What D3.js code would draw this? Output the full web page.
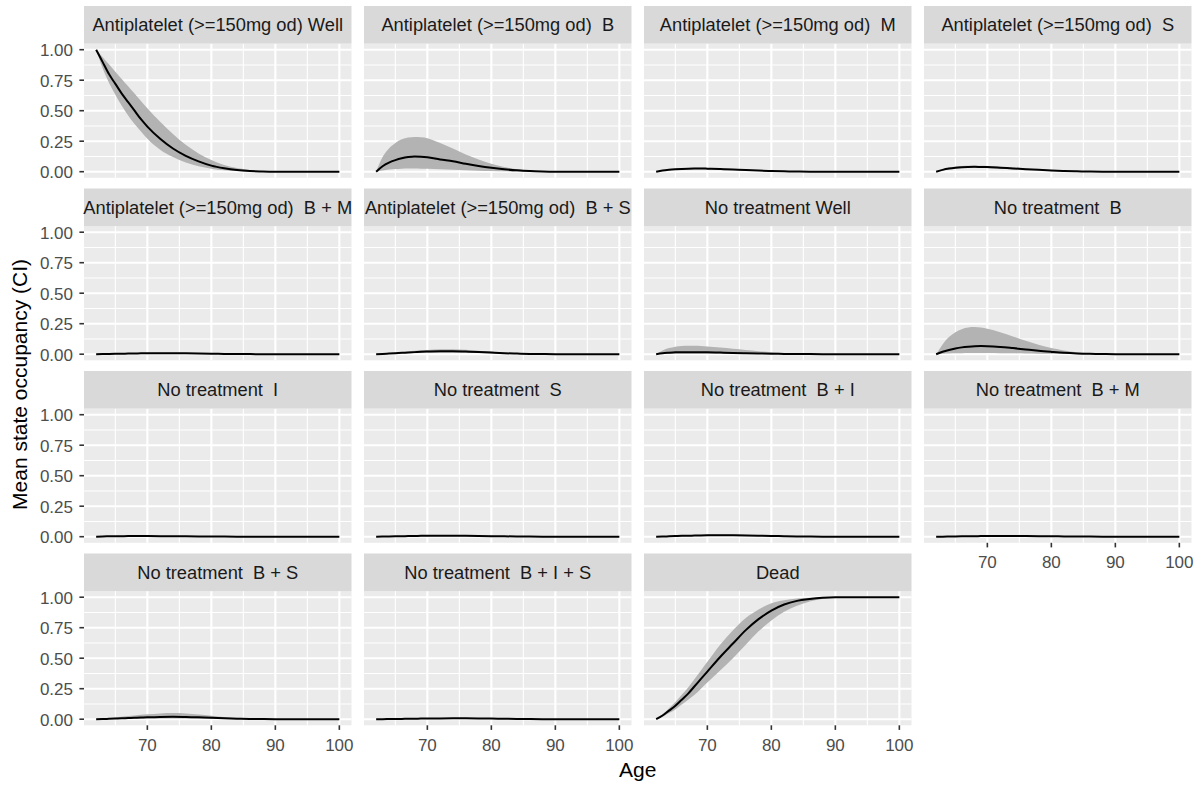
<!DOCTYPE html>
<html>
<head>
<meta charset="utf-8">
<script src="https://cdn.jsdelivr.net/npm/d3@7"></script>
<style>
  html, body { margin: 0; padding: 0; background: #fff; }
  svg { display: block; }
  text { font-family: "Liberation Sans", Arial, sans-serif; white-space: pre; }
</style>
</head>
<body>
<svg id="chart" width="1203" height="785"></svg>
<script>
// ---------------- data ----------------
const panelNames = [
  "Antiplatelet (>=150mg od) Well",
  "Antiplatelet (>=150mg od)  B",
  "Antiplatelet (>=150mg od)  M",
  "Antiplatelet (>=150mg od)  S",
  "Antiplatelet (>=150mg od)  B + M",
  "Antiplatelet (>=150mg od)  B + S",
  "No treatment Well",
  "No treatment  B",
  "No treatment  I",
  "No treatment  S",
  "No treatment  B + I",
  "No treatment  B + M",
  "No treatment  B + S",
  "No treatment  B + I + S",
  "Dead"
];

const ages = [62, 63, 64, 65, 66, 67, 68, 69, 70, 72, 74, 76, 78, 80, 82, 84, 86, 88, 90, 95, 100];

const xTicks = [70, 80, 90, 100];
const xMinor = [65, 75, 85, 95];
const yTicks = [0, 0.25, 0.5, 0.75, 1];
const yTickLabels = ["0.00", "0.25", "0.50", "0.75", "1.00"];
const yMinor = [0.125, 0.375, 0.625, 0.875];

const meanOccupancy = [
  [1, 0.90, 0.80, 0.72, 0.64, 0.57, 0.50, 0.43, 0.37, 0.27, 0.19, 0.13, 0.085, 0.05, 0.028, 0.013, 0.005, 0.002, 0.0005, 0, 0],
  [0, 0.045, 0.075, 0.095, 0.11, 0.12, 0.125, 0.123, 0.118, 0.10, 0.085, 0.065, 0.047, 0.032, 0.02, 0.011, 0.005, 0.002, 0.0005, 0, 0],
  [0, 0.01, 0.016, 0.02, 0.023, 0.025, 0.026, 0.026, 0.025, 0.022, 0.018, 0.013, 0.009, 0.006, 0.003, 0.0015, 0.0006, 0.0002, 0, 0, 0],
  [0, 0.015, 0.026, 0.033, 0.037, 0.039, 0.04, 0.039, 0.038, 0.033, 0.027, 0.021, 0.015, 0.01, 0.006, 0.003, 0.0015, 0.0005, 0.0002, 0, 0],
  [0, 0.001, 0.002, 0.003, 0.004, 0.005, 0.006, 0.007, 0.0075, 0.008, 0.0078, 0.007, 0.0055, 0.004, 0.0025, 0.0014, 0.0007, 0.0003, 0.0001, 0, 0],
  [0, 0.002, 0.005, 0.008, 0.011, 0.014, 0.017, 0.02, 0.022, 0.025, 0.025, 0.022, 0.018, 0.013, 0.008, 0.005, 0.0025, 0.001, 0.0005, 0, 0],
  [0, 0.008, 0.012, 0.015, 0.016, 0.017, 0.017, 0.016, 0.015, 0.013, 0.01, 0.008, 0.006, 0.004, 0.0025, 0.0015, 0.0008, 0.0004, 0.0002, 0, 0],
  [0, 0.02, 0.035, 0.047, 0.056, 0.062, 0.066, 0.067, 0.066, 0.06, 0.05, 0.039, 0.028, 0.019, 0.011, 0.006, 0.003, 0.001, 0.0003, 0, 0],
  [0, 0.002, 0.003, 0.004, 0.0045, 0.005, 0.005, 0.005, 0.0048, 0.0043, 0.0037, 0.003, 0.0023, 0.0016, 0.001, 0.0006, 0.0003, 0.0001, 0, 0, 0],
  [0, 0.001, 0.002, 0.003, 0.004, 0.005, 0.006, 0.0068, 0.0074, 0.008, 0.008, 0.0073, 0.006, 0.0046, 0.0032, 0.002, 0.0011, 0.0005, 0.0002, 0, 0],
  [0, 0.001, 0.003, 0.005, 0.007, 0.008, 0.0095, 0.0105, 0.0113, 0.012, 0.0118, 0.0105, 0.0085, 0.0063, 0.0042, 0.0025, 0.0013, 0.0006, 0.0002, 0, 0],
  [0, 0.0005, 0.0012, 0.002, 0.0028, 0.0035, 0.0042, 0.0048, 0.0053, 0.006, 0.006, 0.0055, 0.0045, 0.0034, 0.0023, 0.0014, 0.0007, 0.0003, 0.0001, 0, 0],
  [0, 0.001, 0.003, 0.005, 0.007, 0.0095, 0.012, 0.014, 0.016, 0.019, 0.02, 0.018, 0.015, 0.011, 0.007, 0.0042, 0.0022, 0.001, 0.0004, 0, 0],
  [0, 0.0003, 0.001, 0.0018, 0.0026, 0.0034, 0.0042, 0.005, 0.0056, 0.0065, 0.007, 0.0068, 0.006, 0.0048, 0.0034, 0.0022, 0.0012, 0.0006, 0.0002, 0, 0],
  [0, 0.03, 0.07, 0.11, 0.16, 0.21, 0.27, 0.33, 0.39, 0.51, 0.62, 0.73, 0.82, 0.89, 0.94, 0.97, 0.985, 0.995, 0.999, 1, 1]
];

const lowerCI = [
  [1, 0.85, 0.73, 0.63, 0.54, 0.46, 0.39, 0.33, 0.27, 0.18, 0.12, 0.075, 0.045, 0.025, 0.012, 0.005, 0.002, 0.0005, 0, 0, 0],
  [0, 0.01, 0.018, 0.022, 0.025, 0.026, 0.026, 0.025, 0.024, 0.02, 0.016, 0.012, 0.008, 0.005, 0.003, 0.0015, 0.0006, 0.0002, 0, 0, 0],
  [0, 0.007, 0.012, 0.015, 0.017, 0.019, 0.02, 0.02, 0.019, 0.017, 0.014, 0.01, 0.007, 0.0045, 0.0022, 0.001, 0.0004, 0.0001, 0, 0, 0],
  [0, 0.01, 0.019, 0.025, 0.028, 0.03, 0.031, 0.03, 0.029, 0.025, 0.02, 0.015, 0.011, 0.007, 0.004, 0.002, 0.001, 0.0003, 0.0001, 0, 0],
  [0, 0.0006, 0.0012, 0.0018, 0.0024, 0.003, 0.0036, 0.0042, 0.0045, 0.0048, 0.0047, 0.0042, 0.0033, 0.0024, 0.0015, 0.0008, 0.0004, 0.0002, 0.0001, 0, 0],
  [0, 0.001, 0.0025, 0.004, 0.0055, 0.007, 0.0085, 0.01, 0.011, 0.0125, 0.0125, 0.011, 0.009, 0.0065, 0.004, 0.0025, 0.0012, 0.0005, 0.0002, 0, 0],
  [0, 0.002, 0.003, 0.004, 0.004, 0.004, 0.004, 0.004, 0.0035, 0.003, 0.0025, 0.002, 0.0015, 0.001, 0.0006, 0.0003, 0.0002, 0.0001, 0, 0, 0],
  [0, 0.003, 0.005, 0.007, 0.008, 0.009, 0.0095, 0.0095, 0.0093, 0.0085, 0.0072, 0.0057, 0.0042, 0.0028, 0.0017, 0.0009, 0.0004, 0.0002, 0.0001, 0, 0],
  [0, 0.0012, 0.0018, 0.0024, 0.0027, 0.003, 0.003, 0.003, 0.0029, 0.0026, 0.0022, 0.0018, 0.0014, 0.001, 0.0006, 0.0004, 0.0002, 0.0001, 0, 0, 0],
  [0, 0.0006, 0.0012, 0.0018, 0.0024, 0.003, 0.0036, 0.0041, 0.0044, 0.0048, 0.0048, 0.0044, 0.0036, 0.0028, 0.0019, 0.0012, 0.0007, 0.0003, 0.0001, 0, 0],
  [0, 0.0006, 0.0018, 0.003, 0.0042, 0.0048, 0.0057, 0.0063, 0.0068, 0.0072, 0.0071, 0.0063, 0.0051, 0.0038, 0.0025, 0.0015, 0.0008, 0.0004, 0.0001, 0, 0],
  [0, 0.0003, 0.0007, 0.0012, 0.0017, 0.0021, 0.0025, 0.0029, 0.0032, 0.0036, 0.0036, 0.0033, 0.0027, 0.002, 0.0014, 0.0008, 0.0004, 0.0002, 0.0001, 0, 0],
  [0, 0.0003, 0.001, 0.0015, 0.002, 0.003, 0.0036, 0.0042, 0.0048, 0.0057, 0.006, 0.0054, 0.0045, 0.0033, 0.0021, 0.0013, 0.0007, 0.0003, 0.0001, 0, 0],
  [0, 0.0002, 0.0006, 0.0011, 0.0016, 0.002, 0.0025, 0.003, 0.0034, 0.0039, 0.0042, 0.0041, 0.0036, 0.0029, 0.002, 0.0013, 0.0007, 0.0004, 0.0001, 0, 0],
  [0, 0.02, 0.05, 0.08, 0.12, 0.16, 0.20, 0.25, 0.30, 0.40, 0.50, 0.61, 0.72, 0.81, 0.88, 0.93, 0.965, 0.985, 0.995, 1, 1]
];

const upperCI = [
  [1, 0.94, 0.88, 0.82, 0.76, 0.70, 0.64, 0.58, 0.52, 0.41, 0.31, 0.22, 0.15, 0.095, 0.055, 0.03, 0.014, 0.006, 0.002, 0, 0],
  [0, 0.12, 0.19, 0.235, 0.265, 0.28, 0.285, 0.283, 0.275, 0.235, 0.19, 0.14, 0.10, 0.065, 0.038, 0.02, 0.009, 0.003, 0.001, 0, 0],
  [0, 0.013, 0.02, 0.025, 0.029, 0.031, 0.032, 0.032, 0.031, 0.028, 0.023, 0.017, 0.012, 0.008, 0.0045, 0.0022, 0.0009, 0.0003, 0.0001, 0, 0],
  [0, 0.02, 0.033, 0.041, 0.046, 0.048, 0.049, 0.048, 0.047, 0.041, 0.034, 0.027, 0.02, 0.013, 0.008, 0.0045, 0.0022, 0.0008, 0.0003, 0, 0],
  [0, 0.0015, 0.003, 0.0045, 0.006, 0.0072, 0.0085, 0.0098, 0.0105, 0.0113, 0.011, 0.0098, 0.0078, 0.0057, 0.0036, 0.002, 0.001, 0.0004, 0.0002, 0, 0],
  [0, 0.003, 0.008, 0.013, 0.018, 0.023, 0.028, 0.032, 0.035, 0.04, 0.04, 0.036, 0.029, 0.021, 0.013, 0.008, 0.004, 0.0017, 0.0007, 0, 0],
  [0, 0.03, 0.05, 0.062, 0.068, 0.07, 0.07, 0.068, 0.064, 0.055, 0.045, 0.035, 0.025, 0.017, 0.01, 0.006, 0.003, 0.0013, 0.0005, 0, 0],
  [0, 0.08, 0.14, 0.18, 0.205, 0.218, 0.222, 0.218, 0.208, 0.18, 0.145, 0.11, 0.078, 0.05, 0.03, 0.016, 0.008, 0.003, 0.001, 0, 0],
  [0, 0.003, 0.0045, 0.006, 0.0068, 0.0075, 0.0075, 0.0075, 0.0072, 0.0065, 0.0056, 0.0045, 0.0035, 0.0024, 0.0015, 0.0009, 0.0005, 0.0002, 0.0001, 0, 0],
  [0, 0.0015, 0.003, 0.0045, 0.006, 0.0075, 0.009, 0.0102, 0.0111, 0.012, 0.012, 0.011, 0.009, 0.0069, 0.0048, 0.003, 0.0017, 0.0008, 0.0003, 0, 0],
  [0, 0.0015, 0.0045, 0.0075, 0.0105, 0.012, 0.0143, 0.0158, 0.017, 0.018, 0.0177, 0.0158, 0.0128, 0.0095, 0.0063, 0.0038, 0.002, 0.0009, 0.0003, 0, 0],
  [0, 0.0009, 0.002, 0.0034, 0.0048, 0.006, 0.0071, 0.0082, 0.009, 0.0102, 0.0102, 0.0094, 0.0077, 0.0058, 0.0039, 0.0024, 0.0012, 0.0005, 0.0002, 0, 0],
  [0, 0.003, 0.008, 0.014, 0.02, 0.026, 0.031, 0.036, 0.04, 0.047, 0.05, 0.047, 0.039, 0.029, 0.019, 0.011, 0.006, 0.0027, 0.0011, 0, 0],
  [0, 0.0005, 0.0015, 0.0027, 0.0039, 0.0051, 0.0063, 0.0075, 0.0084, 0.0098, 0.0105, 0.0102, 0.009, 0.0072, 0.0051, 0.0033, 0.0018, 0.0009, 0.0003, 0, 0],
  [0, 0.04, 0.09, 0.14, 0.20, 0.26, 0.33, 0.40, 0.47, 0.61, 0.73, 0.83, 0.90, 0.95, 0.975, 0.99, 0.996, 0.999, 1, 1, 1]
];

// ---------------- layout ----------------
const nCols = 4;
const panelLeft0 = 84, colPitch = 280, panelW = 267.5;
const stripTop0 = 6, rowPitch = 182.5, stripH = 37.6, panelH = 134.2;

const svg = d3.select("#chart");
const xDomain = [62 - 0.05 * 38, 100 + 0.05 * 38];
const yDomain = [-0.05, 1.05];

panelNames.forEach((name, i) => {
  const col = i % nCols, row = Math.floor(i / nCols);
  const px = panelLeft0 + col * colPitch;
  const sTop = stripTop0 + row * rowPitch;
  const py = sTop + stripH;

  const x = d3.scaleLinear().domain(xDomain).range([px, px + panelW]);
  const y = d3.scaleLinear().domain(yDomain).range([py + panelH, py]);

  const g = svg.append("g");

  // panel background
  g.append("rect").attr("x", px).attr("y", py).attr("width", panelW).attr("height", panelH).attr("fill", "#EBEBEB");

  // minor grid
  g.selectAll(".ymin").data(yMinor).join("line")
    .attr("x1", px).attr("x2", px + panelW).attr("y1", d => y(d)).attr("y2", d => y(d))
    .attr("stroke", "#fff").attr("stroke-width", 1.1);
  g.selectAll(".xmin").data(xMinor).join("line")
    .attr("y1", py).attr("y2", py + panelH).attr("x1", d => x(d)).attr("x2", d => x(d))
    .attr("stroke", "#fff").attr("stroke-width", 1.1);
  // major grid
  g.selectAll(".ymaj").data(yTicks).join("line")
    .attr("x1", px).attr("x2", px + panelW).attr("y1", d => y(d)).attr("y2", d => y(d))
    .attr("stroke", "#fff").attr("stroke-width", 2.1);
  g.selectAll(".xmaj").data(xTicks).join("line")
    .attr("y1", py).attr("y2", py + panelH).attr("x1", d => x(d)).attr("x2", d => x(d))
    .attr("stroke", "#fff").attr("stroke-width", 2.1);

  // strip
  g.append("rect").attr("x", px).attr("y", sTop).attr("width", panelW).attr("height", stripH).attr("fill", "#D9D9D9");
  g.append("text").attr("x", px + panelW / 2).attr("y", sTop + stripH / 2 + 6.6)
    .attr("text-anchor", "middle").attr("font-size", 18.3).attr("fill", "#1A1A1A").text(name);

  // data
  const pts = ages.map((a, k) => ({ a, m: meanOccupancy[i][k], lo: lowerCI[i][k], hi: upperCI[i][k] }));
  const area = d3.area().x(d => x(d.a)).y0(d => y(d.lo)).y1(d => y(d.hi)).curve(d3.curveMonotoneX);
  const line = d3.line().x(d => x(d.a)).y(d => y(d.m)).curve(d3.curveMonotoneX);
  g.append("path").attr("d", area(pts)).attr("fill", "#B3B3B3");
  g.append("path").attr("d", line(pts)).attr("fill", "none").attr("stroke", "#000").attr("stroke-width", 2);

  // y axis on first column
  if (col === 0) {
    const ya = g.append("g");
    ya.selectAll("line").data(yTicks).join("line")
      .attr("x1", px - 4.6).attr("x2", px).attr("y1", d => y(d)).attr("y2", d => y(d))
      .attr("stroke", "#333333").attr("stroke-width", 1.6);
    ya.selectAll("text").data(yTicks).join("text")
      .attr("x", px - 11).attr("y", d => y(d) + 6.3).attr("text-anchor", "end")
      .attr("font-size", 17).attr("fill", "#4D4D4D").text((d, k) => yTickLabels[k]);
  }
  // x axis on bottom panel of each column
  const isBottom = (i + nCols >= panelNames.length);
  if (isBottom) {
    const xa = g.append("g");
    const by = py + panelH;
    xa.selectAll("line").data(xTicks).join("line")
      .attr("x1", d => x(d)).attr("x2", d => x(d)).attr("y1", by).attr("y2", by + 4.6)
      .attr("stroke", "#333333").attr("stroke-width", 1.6);
    xa.selectAll("text").data(xTicks).join("text")
      .attr("x", d => x(d)).attr("y", by + 25.3).attr("text-anchor", "middle")
      .attr("font-size", 17).attr("fill", "#4D4D4D").text(d => d);
  }
});

// axis titles
const leftEdge = panelLeft0, rightEdge = panelLeft0 + 3 * colPitch + panelW;
const topEdge = stripTop0 + stripH, bottomEdge = stripTop0 + 3 * rowPitch + stripH + panelH;
svg.append("text").attr("x", (leftEdge + rightEdge) / 2).attr("y", 776.5)
  .attr("text-anchor", "middle").attr("font-size", 21).attr("fill", "#000").text("Age");
svg.append("text")
  .attr("transform", `translate(27,${(topEdge + bottomEdge) / 2}) rotate(-90)`)
  .attr("text-anchor", "middle").attr("font-size", 21).attr("fill", "#000").text("Mean state occupancy (CI)");
</script>
</body>
</html>
